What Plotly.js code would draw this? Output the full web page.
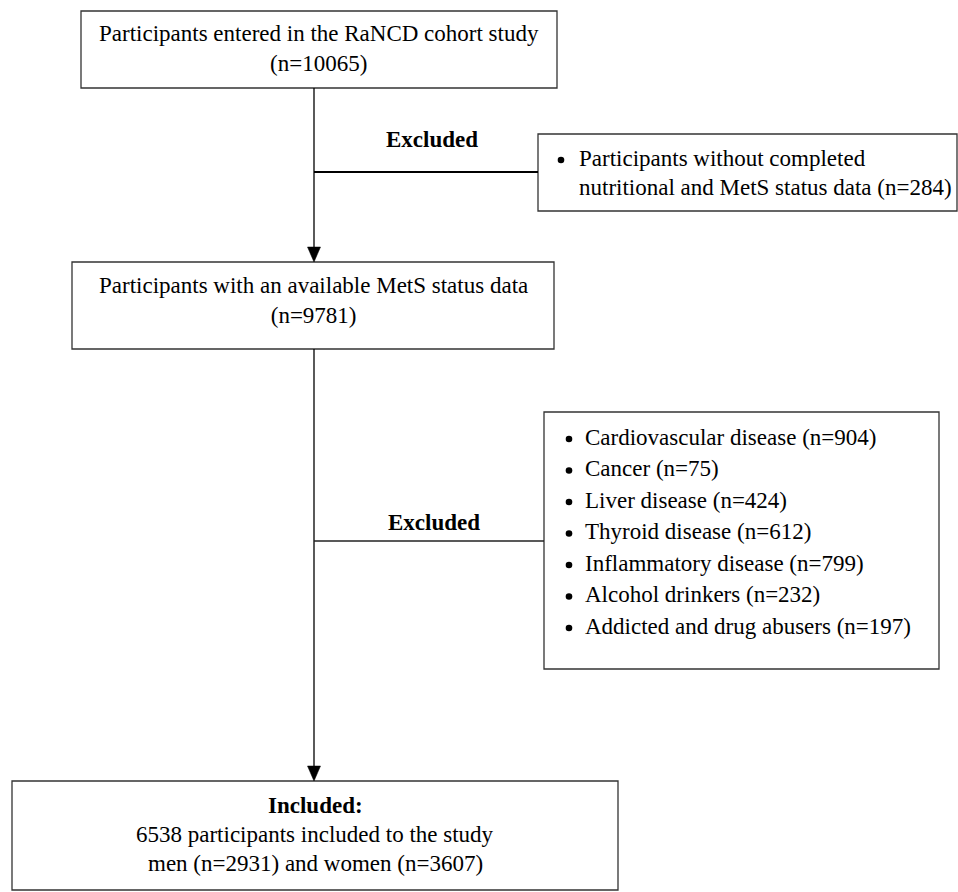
<!DOCTYPE html>
<html>
<head>
<meta charset="utf-8">
<script src="https://cdn.plot.ly/plotly-3.0.1.min.js"></script>
<style>html,body{margin:0;padding:0;background:#fff;overflow:hidden;}</style>
</head>
<body>
<div id="chart" style="width:958px;height:892px;"></div>
<script>
// ---------------- data ----------------
const stageLabels = [
  "Participants entered in the RaNCD cohort study",
  "Participants with an available MetS status data",
  "participants included to the study"
];
const stageCounts = [10065, 9781, 6538];

const firstExclusionReason = "Participants without completed nutritional and MetS status data";
const firstExclusionCount = 284;

const exclusionReasons = [
  "Cardiovascular disease",
  "Cancer",
  "Liver disease",
  "Thyroid disease",
  "Inflammatory disease",
  "Alcohol drinkers",
  "Addicted and drug abusers"
];
const exclusionCounts = [904, 75, 424, 612, 799, 232, 197];

const sexGroups = ["men", "women"];
const sexCounts = [2931, 3607];

const excludedLabel = "Excluded";
const includedLabel = "Included:";

// ---------------- layout geometry (not data) ----------------
const G = {
  W: 958, H: 892,
  font: "Liberation Serif, 'Times New Roman', Times, serif",
  size: 23,
  boxLine: "#333333",
  box: {
    entered:  [81, 11, 557, 88],
    available:[72, 262, 554, 349],
    excl1:    [538, 134, 957, 211],
    excl2:    [544, 412, 939, 669],
    included: [12, 781, 618, 890]
  },
  trunkX: 314,
  branch1Y: 172,
  branch2Y: 541,
  head: {w: 13, h: 15},
  bulletR: 3.3,
  firstWrapWords: 3
};

const shapes = [];
const annotations = [];

function rect(b) {
  shapes.push({type: "rect", xref: "x", yref: "y", x0: b[0], y0: b[1], x1: b[2], y1: b[3],
    line: {color: G.boxLine, width: 1.3}, fillcolor: "rgba(0,0,0,0)"});
}
function line(x0, y0, x1, y1, w, c) {
  shapes.push({type: "line", xref: "x", yref: "y", x0, y0, x1, y1, line: {color: c || "#000", width: w || 1.3}});
}
function arrowDown(x, yFrom, yTip) {
  line(x, yFrom, x, yTip - G.head.h + 1, 1.3, "#000");
  const hw = G.head.w / 2, yb = yTip - G.head.h;
  shapes.push({type: "path", xref: "x", yref: "y",
    path: `M ${x - hw} ${yb} L ${x + hw} ${yb} L ${x} ${yTip} Z`,
    fillcolor: "#000", line: {color: "#000", width: 0.5}});
}
function bullet(x, y) {
  const r = G.bulletR;
  shapes.push({type: "circle", xref: "x", yref: "y", x0: x - r, y0: y - r, x1: x + r, y1: y + r,
    fillcolor: "#000", line: {color: "#000", width: 0}});
}
function text(t, x, y, opts) {
  opts = opts || {};
  annotations.push(Object.assign({
    xref: "x", yref: "y", x, y, text: t, showarrow: false,
    xanchor: "center", yanchor: "middle", align: "center",
    font: {family: G.font, size: G.size, color: "#000"}
  }, opts));
}

// boxes
Object.values(G.box).forEach(rect);

// flow lines
arrowDown(G.trunkX, G.box.entered[3], G.box.available[1]);
arrowDown(G.trunkX, G.box.available[3], G.box.included[1]);
line(G.trunkX, G.branch1Y, G.box.excl1[0], G.branch1Y, 2, "#000");
line(G.trunkX, G.branch2Y, G.box.excl2[0], G.branch2Y, 1.4, "#222");

// stage texts
text(`${stageLabels[0]}<br>(n=${stageCounts[0]})`, 319, 48);
text(`${stageLabels[1]}<br>(n=${stageCounts[1]})`, 313, 300);

// first exclusion
text(`<b>${excludedLabel}</b>`, 432, 139);
const words = firstExclusionReason.split(" ");
const firstLines = [words.slice(0, G.firstWrapWords).join(" "),
                    words.slice(G.firstWrapWords).join(" ") + ` (n=${firstExclusionCount})`];
bullet(561, 160);
firstLines.forEach((s, i) => text(s, 577, 158 + i * 29, {xanchor: "left", align: "left"}));

// second exclusion
text(`<b>${excludedLabel}</b>`, 434, 522);
exclusionReasons.forEach((r, i) => {
  const y = 437 + i * 31.5;
  bullet(569, y + 2);
  text(`${r} (n=${exclusionCounts[i]})`, 583, y, {xanchor: "left", align: "left"});
});

// included
text(`<b>${includedLabel}</b>`, 315, 805);
text(`${stageCounts[2]} ${stageLabels[2]}`, 315, 834);
text(`${sexGroups[0]} (n=${sexCounts[0]}) and ${sexGroups[1]} (n=${sexCounts[1]})`, 315, 863);

const ax = {range: [0, G.W], showgrid: false, zeroline: false, showticklabels: false, showline: false, ticks: "", fixedrange: true};
const layout = {
  width: G.W, height: G.H,
  margin: {l: 0, r: 0, t: 0, b: 0, pad: 0},
  paper_bgcolor: "#fff", plot_bgcolor: "#fff",
  showlegend: false,
  xaxis: Object.assign({}, ax, {range: [0, G.W]}),
  yaxis: Object.assign({}, ax, {range: [G.H, 0]}),
  shapes, annotations
};
Plotly.newPlot("chart", [{x: [], y: [], type: "scatter", mode: "markers", hoverinfo: "skip"}], layout,
  {staticPlot: true, displayModeBar: false});
</script>
</body>
</html>
